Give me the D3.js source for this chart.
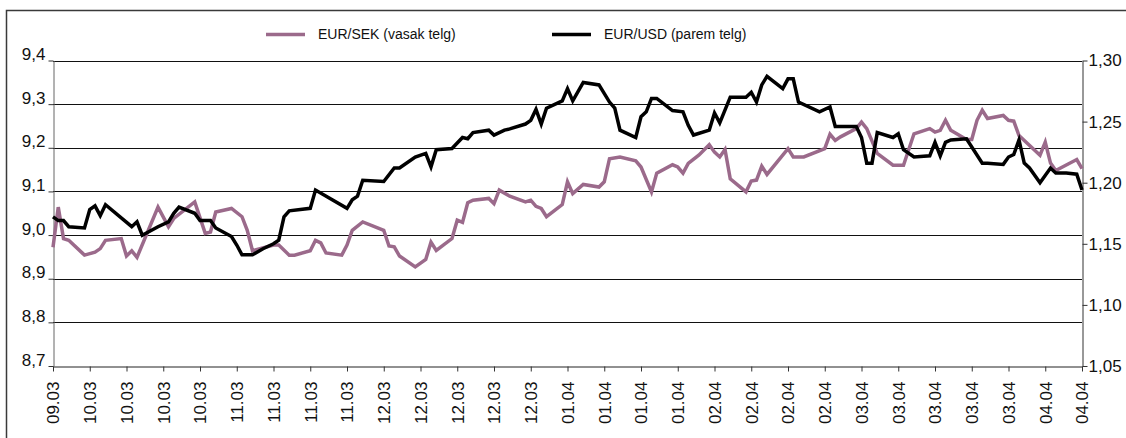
<!DOCTYPE html>
<html>
<head>
<meta charset="utf-8">
<script src="https://cdn.jsdelivr.net/npm/d3@7"></script>
<style>
  html, body { margin: 0; padding: 0; background: #fff; }
  svg { display: block; font-family: "Liberation Sans", Arial, sans-serif; }
</style>
</head>
<body>
<svg id="chart" width="1126" height="438"></svg>
<script>
// ---- DATA ----
// x axis: calendar days counted from the first weekly label (0 .. 196)
const xLabels = ["09.03","10.03","10.03","10.03","10.03","11.03","11.03","11.03","11.03",
  "12.03","12.03","12.03","12.03","12.03","01.04","01.04","01.04","01.04",
  "02.04","02.04","02.04","02.04","03.04","03.04","03.04","03.04","03.04","04.04","04.04"];
const labelStepDays = 7;

const leftTicks = [8.7, 8.8, 8.9, 9.0, 9.1, 9.2, 9.3, 9.4];
const rightTicks = [1.05, 1.10, 1.15, 1.20, 1.25, 1.30];

const seriesNames = ["EUR/SEK (vasak telg)", "EUR/USD (parem telg)"];

// EUR/SEK (left axis)
const sekDays = [0,1,2,3,6,8,9,10,13,14,15,16,20,22,23,27,29,30,31,34,36,37,38,42,43,45,46,49,50,51,52,55,56,57,59,63,64,65,66,69,71,72,73,76,77,78,79,80,83,84,85,87,90,91,92,93,94,97,98,99,101,104,105,106,108,111,112,114,115,118,119,120,121,123,125,126,127,128,129,132,133,134,135,136,140,141,143,147,148,149,150,153,154,155,157,160,162,164,167,168,169,170,171,174,175,176,177,178,181,182,183,184,188,189,190,191,195,196];
const sekValues = [8.972,9.064,8.992,8.988,8.954,8.961,8.969,8.988,8.992,8.952,8.964,8.949,9.064,9.019,9.038,9.076,9.004,9.007,9.053,9.061,9.042,9.011,8.964,8.977,8.977,8.954,8.954,8.964,8.988,8.982,8.959,8.954,8.977,9.011,9.030,9.011,8.975,8.973,8.952,8.927,8.944,8.984,8.965,8.992,9.034,9.029,9.074,9.080,9.084,9.072,9.103,9.089,9.076,9.080,9.066,9.061,9.042,9.070,9.122,9.095,9.116,9.110,9.122,9.175,9.179,9.170,9.156,9.099,9.142,9.161,9.156,9.142,9.164,9.183,9.207,9.190,9.179,9.196,9.129,9.099,9.124,9.126,9.158,9.139,9.198,9.179,9.179,9.198,9.231,9.217,9.225,9.244,9.259,9.244,9.187,9.160,9.160,9.232,9.244,9.236,9.240,9.263,9.240,9.219,9.219,9.263,9.286,9.267,9.274,9.263,9.261,9.228,9.183,9.213,9.165,9.148,9.173,9.152];

// EUR/USD (right axis)
const usdDays = [0,1,2,3,6,7,8,9,10,15,16,17,20,22,23,24,27,28,30,31,34,35,36,38,40,42,43,44,45,49,50,56,57,58,59,63,65,66,69,71,72,73,76,78,79,80,83,84,86,87,90,91,92,93,94,97,98,99,101,104,106,107,108,111,112,113,114,115,118,120,121,122,125,126,127,129,132,133,134,135,136,139,140,141,142,146,148,149,153,154,155,156,157,160,161,162,164,167,168,169,170,171,174,177,178,181,182,183,184,185,186,188,190,191,193,195,196];
const usdValues = [1.172,1.169,1.169,1.164,1.163,1.178,1.181,1.173,1.182,1.164,1.168,1.157,1.164,1.168,1.175,1.180,1.175,1.169,1.169,1.163,1.156,1.149,1.141,1.141,1.146,1.150,1.153,1.172,1.177,1.179,1.194,1.179,1.186,1.189,1.202,1.201,1.212,1.212,1.221,1.224,1.213,1.227,1.228,1.237,1.236,1.241,1.243,1.239,1.243,1.244,1.248,1.251,1.260,1.248,1.261,1.267,1.277,1.267,1.282,1.280,1.266,1.261,1.243,1.237,1.254,1.258,1.269,1.269,1.259,1.258,1.247,1.239,1.243,1.257,1.249,1.270,1.270,1.274,1.266,1.280,1.287,1.277,1.285,1.285,1.266,1.258,1.262,1.246,1.246,1.237,1.216,1.216,1.241,1.237,1.240,1.227,1.221,1.222,1.233,1.222,1.233,1.235,1.236,1.216,1.216,1.215,1.221,1.223,1.235,1.216,1.212,1.200,1.212,1.208,1.208,1.207,1.194];

// ---- LAYOUT ----
const svg = d3.select("#chart");
const plot = { left: 53, right: 1082, top: 60.5, bottom: 366 };
const sekColor = "#9b6a8b";
const usdColor = "#000000";
const lastDay = (xLabels.length - 1) * labelStepDays;

const x = d3.scaleLinear().domain([0, lastDay]).range([plot.left, plot.right]);
const yL = d3.scaleLinear().domain([8.7, 9.4]).range([plot.bottom, plot.top]);
const yR = d3.scaleLinear().domain([1.05, 1.30]).range([plot.bottom, plot.top]);

// outer frame (right/bottom edges fall outside the picture)
svg.append("rect")
  .attr("x", 6.5).attr("y", 10.5)
  .attr("width", 1140).attr("height", 460)
  .attr("fill", "none").attr("stroke", "#3a3a3a").attr("stroke-width", 1.5);

// gridlines
svg.append("g")
  .selectAll("line")
  .data(leftTicks.filter(v => v > 8.7))
  .join("line")
  .attr("x1", plot.left).attr("x2", plot.right)
  .attr("y1", d => Math.round(yL(d)) + 0.5).attr("y2", d => Math.round(yL(d)) + 0.5)
  .attr("stroke", "#111").attr("stroke-width", 1);

// left axis
const leftAxis = d3.axisLeft(yL).tickValues(leftTicks).tickSize(5).tickSizeOuter(0)
  .tickFormat(d => d3.format(".1f")(d).replace(".", ","));
const gL = svg.append("g").attr("transform", `translate(${plot.left + 0.5},0)`).call(leftAxis);
gL.select(".domain").attr("stroke", "#666");
gL.selectAll(".tick line").attr("stroke", "#333");
gL.selectAll(".tick text")
  .attr("x", -8).attr("dy", "-0.05em")
  .attr("font-size", 17).attr("fill", "#111")
  .attr("font-family", '"Liberation Sans", Arial, sans-serif');

// right axis
const rightAxis = d3.axisRight(yR).tickValues(rightTicks).tickSize(5).tickSizeOuter(0)
  .tickFormat(d => d3.format(".2f")(d).replace(".", ","));
const gR = svg.append("g").attr("transform", `translate(${plot.right + 0.5},0)`).call(rightAxis);
gR.select(".domain").attr("stroke", "#333");
gR.selectAll(".tick line").attr("stroke", "#333");
gR.selectAll(".tick text")
  .attr("x", 6).attr("font-size", 17).attr("fill", "#111")
  .attr("font-family", '"Liberation Sans", Arial, sans-serif');

// bottom axis
const bottomAxis = d3.axisBottom(x)
  .tickValues(xLabels.map((_, i) => i * labelStepDays))
  .tickSize(5).tickSizeOuter(0)
  .tickFormat((d, i) => xLabels[i]);
const gB = svg.append("g").attr("transform", `translate(0,${plot.bottom + 0.5})`).call(bottomAxis);
gB.select(".domain").attr("stroke", "#222");
gB.selectAll(".tick line").attr("stroke", "#333");
gB.selectAll(".tick text")
  .attr("font-size", 17).attr("fill", "#111")
  .attr("font-family", '"Liberation Sans", Arial, sans-serif')
  .attr("text-anchor", "end")
  .attr("transform", "rotate(-90)")
  .attr("x", -15).attr("y", 0).attr("dy", "0.35em");

// lines
const sekData = sekDays.map((d, i) => [d, sekValues[i]]);
const usdData = usdDays.map((d, i) => [d, usdValues[i]]);

svg.append("path")
  .datum(sekData)
  .attr("fill", "none").attr("stroke", sekColor).attr("stroke-width", 3.5)
  .attr("stroke-linejoin", "miter")
  .attr("d", d3.line().x(d => x(d[0])).y(d => yL(d[1])));

svg.append("path")
  .datum(usdData)
  .attr("fill", "none").attr("stroke", usdColor).attr("stroke-width", 3.5)
  .attr("stroke-linejoin", "miter")
  .attr("d", d3.line().x(d => x(d[0])).y(d => yR(d[1])));

// legend
const legendItems = [
  { name: seriesNames[0], color: sekColor, x0: 266 },
  { name: seriesNames[1], color: usdColor, x0: 552 }
];
const lg = svg.append("g");
legendItems.forEach(it => {
  lg.append("line")
    .attr("x1", it.x0).attr("x2", it.x0 + 39)
    .attr("y1", 34.5).attr("y2", 34.5)
    .attr("stroke", it.color).attr("stroke-width", 3.5);
  lg.append("text")
    .attr("x", it.x0 + 52).attr("y", 34.5).attr("dy", "0.35em")
    .attr("font-size", 14).attr("fill", "#111")
    .attr("font-family", '"Liberation Sans", Arial, sans-serif')
    .text(it.name);
});
</script>
</body>
</html>
